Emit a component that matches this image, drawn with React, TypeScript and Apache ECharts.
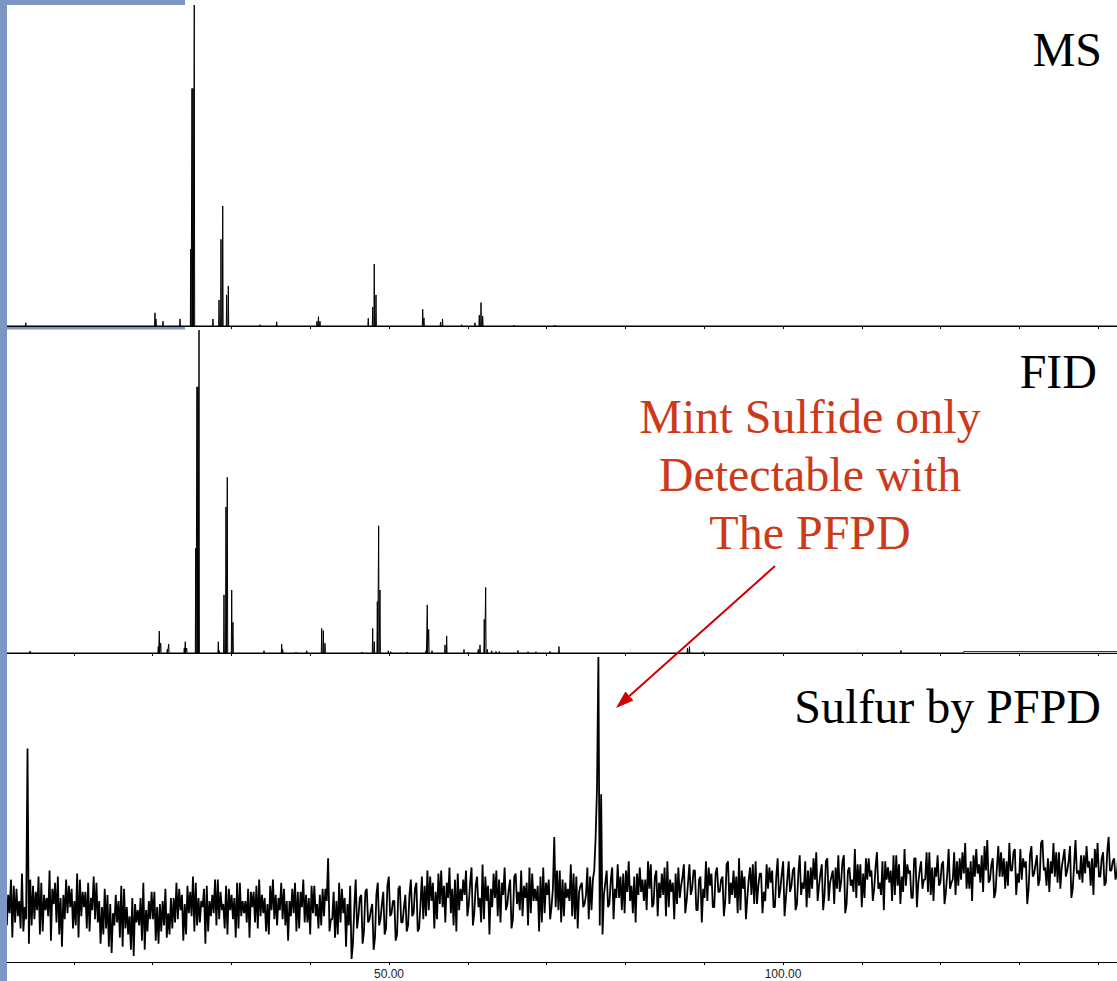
import React, { useEffect, useRef } from "react";
import * as echarts from "echarts";

// ---- time axis (minutes) ----
const axisMin = 0;
const axisMax = 142.39;
const tickInterval = 10;
const labelledTicks = [50, 100];

// ---- MS chromatogram peaks (time, relative height) ----
const msPeakTimes = [3.9, 20.3, 20.43, 21.32, 23.48, 24.84, 25.0, 25.13, 25.29, 27.66, 28.43, 28.68, 28.9, 29.4, 29.61, 33.63, 35.75, 40.86, 41.05, 41.24, 47.37, 47.93, 48.13, 48.35, 54.28, 54.44, 56.54, 56.79, 59.23, 60.91, 61.46, 61.68, 61.89, 65.87, 71.07];
const msPeakHeights = [1.0, 4.1, 2.2, 1.5, 2.2, 24, 74, 74, 100, 2.2, 8.1, 27, 37.4, 9.7, 12.5, 0.4, 1.3, 1.5, 2.9, 1.5, 2.4, 5.9, 19.3, 9.7, 5.2, 2.5, 1.2, 2.2, 0.4, 1.0, 3.4, 7.3, 3.1, 0.3, 0.3];

// ---- FID chromatogram peaks ----
const fidPeakTimes = [4.44, 20.72, 20.85, 21.03, 21.87, 22.04, 24.02, 24.15, 24.33, 25.47, 25.63, 25.76, 25.89, 28.34, 28.46, 29.06, 29.31, 29.48, 30.04, 30.2, 34.14, 36.38, 36.51, 38.2, 39.56, 41.46, 41.67, 41.88, 46.61, 47.93, 48.13, 48.52, 48.69, 48.86, 49.91, 50.22, 52.32, 54.7, 54.86, 55.04, 55.46, 57.11, 57.32, 59.52, 60.06, 61.33, 61.55, 62.09, 62.27, 62.48, 63.03, 63.58, 64.0, 66.37, 67.64, 68.65, 70.43, 71.57, 87.88, 88.13, 89.85, 114.97];
const fidPeakHeights = [0.6, 2.0, 6.8, 3.1, 1.2, 2.8, 1.5, 3.5, 1.5, 32.4, 82.4, 82.4, 100, 3.5, 0.7, 18, 45.2, 54.4, 19.5, 9.5, 0.7, 2.8, 1.1, 0.3, 0.7, 7.6, 6.9, 3.0, 0.3, 7.6, 3.5, 15.9, 39.4, 19.5, 0.7, 0.4, 0.3, 0.7, 14.9, 7.3, 0.7, 2.5, 5.3, 1.1, 0.3, 1.1, 2.5, 10.4, 20.3, 1.1, 0.7, 0.5, 0.5, 0.8, 0.4, 0.4, 0.5, 2.0, 1.5, 2.0, 0.4, 0.8];
const fidShelfTimes = [122.84, 142.39];
const fidShelfLevel = 0.4;

// ---- Sulfur (PFPD) trace: two readings per time bin (bin i starts at pfpdStart + i*pfpdStep);
// the trace visits the lower reading of each bin, then the higher one ----
const pfpdStart = 1.5;
const pfpdStep = 0.35;
const pfpdValuesA = [
  12, 27, 8, 24, 15, 29, 10, 70, 6, 25, 14, 28, 9, 22, 17, 30, 7, 26, 13, 21,
  5, 27, 16, 24, 11, 29, 8, 23, 18, 26, 10, 28, 14, 20,
  6, 24, 11, 19, 3, 22, 13, 25, 5, 18, 9, 21, 2, 17, 12, 26, 4, 20, 14, 23, 7, 19, 10, 24, 8, 21,
  11, 26, 14, 22, 7, 25, 16, 28, 10, 21, 13, 24, 6, 20, 15, 27, 12, 23, 17, 25,
  9, 22, 14, 26, 11, 20, 16, 24, 8, 23, 13, 27, 15, 21, 10, 25, 17, 22, 12, 26,
  14, 20, 7, 24, 16, 23, 11, 27, 13, 21, 9, 25, 15, 22, 12, 24, 34, 10,
  23, 8, 26, 13, 21, 5, 25, 1, 27, 11, 22, 6, 24, 14, 19, 4, 26, 12, 23, 9,
  28, 15, 20, 7, 25, 13, 22, 10, 27, 16, 24, 11,
  28, 14, 30, 17, 26, 11, 29, 19, 25, 13, 31, 16, 27, 10, 24, 20, 30, 15, 26, 12,
  28, 18, 32, 14, 25, 9, 29, 21, 27, 13, 31, 17, 24, 11, 28, 19, 30, 15, 26, 12,
  29, 20, 25, 10, 31, 16, 27, 14, 41, 18, 30, 13, 26, 21, 32, 15, 28, 11, 25, 19,
  31, 14, 27, 41, 100, 55,
  9, 30, 18, 27, 14, 32, 21, 29, 16, 33, 20, 28, 13, 31, 23, 27, 17, 32, 19, 30,
  15, 29, 22, 33, 18, 26, 14, 31, 21, 28, 16, 32, 24, 30, 17, 27, 13, 33, 20, 29,
  18, 31, 23, 28, 15, 32, 19, 30, 21, 34, 17, 28, 14, 31, 22, 33, 19, 29, 16, 32,
  24, 30, 18, 34, 21, 29, 15, 33, 23, 31, 19, 35, 22,
  33, 18, 31, 24, 36, 20, 32, 17, 34, 26, 30, 19, 35, 23, 33, 16, 31, 25, 37, 21,
  32, 18, 34, 27, 30, 20, 36, 24, 33, 17, 31, 26, 35, 22, 32, 19, 37, 25, 30, 21,
  34, 18, 33, 27, 36, 23, 31, 20, 35, 26, 32, 19, 37, 24,
  36, 22, 34, 27, 39, 24, 33, 20, 37, 29, 35, 23, 40, 26, 32, 21, 38, 28, 34, 24,
  39, 30, 36, 22, 37, 27, 33, 19, 38, 29, 35, 25, 40, 31, 34, 23, 39, 28, 36, 24,
  37, 30, 33, 21, 40, 29, 35, 26, 38, 31, 34, 22, 39, 28, 36, 25, 41, 30, 34, 27,
  38,
];
const pfpdValuesB = [
  22, 16, 25, 13, 20, 11, 18, 14, 27, 12, 23, 17, 26, 10, 21, 15, 24, 19, 28, 9,
  22, 14, 25, 18, 20, 12, 27, 15, 23, 11, 21, 17, 26, 13,
  18, 9, 22, 5, 16, 12, 20, 8, 24, 11, 15, 4, 19, 13, 21, 7, 17, 10, 23, 14, 18, 6, 20, 12, 16, 9,
  21, 13, 24, 17, 19, 9, 23, 15, 26, 12, 20, 18, 25, 10, 22, 16, 27, 14, 19, 11,
  24, 17, 21, 8, 26, 15, 20, 13, 23, 18, 25, 11, 22, 16, 19, 9, 27, 14, 21, 17,
  24, 12, 20, 15, 26, 10, 23, 18, 22, 13, 25, 16, 19, 11, 24, 15, 20, 14,
  14, 20, 9, 24, 16, 19, 12, 6, 18, 15, 21, 10, 23, 13, 17, 8, 22, 14, 19, 11,
  25, 16, 20, 9, 24, 13, 18, 12, 22, 15, 26, 10,
  19, 25, 15, 28, 20, 23, 14, 30, 18, 26, 21, 24, 12, 29, 17, 27, 22, 19, 31, 16,
  25, 21, 13, 28, 20, 24, 18, 30, 15, 26, 22, 19, 27, 14, 29, 23, 17, 25, 21, 31,
  16, 24, 20, 28, 13, 26, 22, 18, 24, 30, 17, 27, 15, 24, 20, 29, 14, 23, 26, 18,
  22, 28, 17, 30, 57, 12,
  22, 26, 19, 31, 24, 21, 28, 17, 30, 23, 25, 16, 29, 22, 27, 20, 33, 24, 18, 28,
  26, 21, 31, 15, 27, 23, 29, 19, 25, 32, 20, 26, 22, 30, 17, 28, 24, 21, 31, 25,
  18, 29, 23, 27, 20, 33, 26, 22, 28, 16, 30, 24, 21, 27, 32, 19, 25, 29, 23, 20,
  31, 26, 18, 28, 24, 33, 21, 27, 25, 30, 17, 29, 26,
  24, 30, 21, 34, 27, 25, 29, 22, 33, 20, 28, 31, 24, 26, 35, 19, 30, 27, 23, 32,
  25, 29, 21, 34, 28, 24, 31, 26, 22, 33, 27, 30, 20, 35, 25, 28, 23, 32, 29, 21,
  34, 26, 30, 24, 27, 36, 22, 31, 28, 25, 33, 23, 29, 26,
  27, 33, 25, 36, 29, 31, 24, 35, 28, 32, 26, 38, 30, 27, 34, 23, 31, 36, 28, 33,
  25, 30, 37, 29, 26, 34, 31, 24, 35, 28, 32, 27, 39, 30, 25, 33, 29, 36, 26, 31,
  34, 28, 38, 24, 32, 30, 27, 35, 29, 33, 25, 37, 31, 28, 34, 26, 36, 30, 33, 29,
  35,
];

// ---- annotation texts ----
const panelTitles = ["MS", "FID", "Sulfur by PFPD"];
const noteLines = ["Mint Sulfide only", "Detectable with", "The PFPD"];

function spikeLine(times: number[], heights: number[]) {
  const half = 0.05;
  const pts: number[][] = [[axisMin + 1.5, 0]];
  times.forEach((t, i) => {
    pts.push([t - half, 0], [t, heights[i]], [t + half, 0]);
  });
  return pts;
}

export default function App() {
  const ref = useRef<HTMLDivElement>(null);
  useEffect(() => {
    document.body.style.margin = "0";
    const chart = echarts.init(ref.current!, undefined, { renderer: "svg" });

    const msData = spikeLine(msPeakTimes, msPeakHeights);
    msData.push([axisMax, 0]);
    const fidData = spikeLine(fidPeakTimes, fidPeakHeights);
    fidData.push([fidShelfTimes[0], 0], [fidShelfTimes[0] + 0.06, fidShelfLevel], [fidShelfTimes[1], fidShelfLevel]);
    const pfpdData: number[][] = [];
    pfpdValuesA.forEach((a, i) => {
      const b = pfpdValuesB[i];
      const t = pfpdStart + i * pfpdStep;
      pfpdData.push([t, Math.min(a, b)], [t + pfpdStep / 2, Math.max(a, b)]);
    });

    const grids = [
      { left: -5, right: 0, top: 5, height: 321 },
      { left: -5, right: 0, top: 330, height: 323 },
      { left: -5, right: 0, top: 657, height: 305 },
    ].map((g) => ({ ...g, containLabel: false, outerBoundsMode: "none" }));

    const xAxis = [0, 1, 2].map((gi) => ({
      type: "value",
      gridIndex: gi,
      min: axisMin,
      max: axisMax,
      interval: tickInterval,
      axisLine: { show: true, onZero: false, lineStyle: { color: "#000", width: 1 } },
      axisTick: { show: true, length: 3, lineStyle: { color: "#000", width: 1 } },
      axisLabel: {
        show: gi === 2,
        formatter: (v: number) => (labelledTicks.includes(v) ? v.toFixed(2) : ""),
        fontSize: 12,
        color: "#222",
        fontFamily: "Liberation Sans, Arial, sans-serif",
        margin: 6,
        showMinLabel: false,
        showMaxLabel: false,
      },
      splitLine: { show: false },
    }));

    const yAxis = [0, 1, 2].map((gi) => ({
      type: "value",
      gridIndex: gi,
      min: 0,
      max: 100,
      show: false,
      splitLine: { show: false },
    }));

    const lineSeries = (data: number[][], gi: number, width: number) => ({
      type: "line",
      xAxisIndex: gi,
      yAxisIndex: gi,
      data,
      showSymbol: false,
      symbol: "none",
      silent: true,
      lineStyle: { color: "#000", width },
      z: 3,
    });

    const serif = "'Liberation Serif', 'Times New Roman', serif";
    const blue = "#7b97c2";
    const red = "#cc3a1a";

    const tip = [616, 708];
    const start = [775, 566];

    chart.setOption({
      animation: false,
      backgroundColor: "#ffffff",
      grid: grids,
      xAxis,
      yAxis,
      series: [
        lineSeries(msData, 0, 1),
        lineSeries(fidData, 1, 1),
        lineSeries(pfpdData, 2, 1.8),
      ],
      graphic: [
        { type: "rect", z: 100, shape: { x: 0, y: 0, width: 7, height: 981 }, style: { fill: blue } },
        { type: "rect", z: 100, shape: { x: 0, y: 0, width: 185, height: 5 }, style: { fill: blue } },
        { type: "rect", z: 100, shape: { x: 7, y: 327, width: 178, height: 2.5 }, style: { fill: blue } },
        { type: "text", z: 100, x: 1102, y: 49, style: { text: panelTitles[0], font: `48px ${serif}`, fill: "#000", align: "right", verticalAlign: "middle" } },
        { type: "text", z: 100, x: 1097, y: 371, style: { text: panelTitles[1], font: `48px ${serif}`, fill: "#000", align: "right", verticalAlign: "middle" } },
        { type: "text", z: 100, x: 1101, y: 706, style: { text: panelTitles[2], font: `48px ${serif}`, fill: "#000", align: "right", verticalAlign: "middle" } },
        ...noteLines.map((t, i) => ({
          type: "text",
          z: 100,
          x: 810,
          y: 416 + i * 58,
          style: { text: t, font: `48px ${serif}`, fill: red, align: "center", verticalAlign: "middle" },
        })),
        { type: "line", z: 100, shape: { x1: start[0], y1: start[1], x2: 629.4, y2: 696 }, style: { stroke: "#d10000", lineWidth: 2 } },
        { type: "polygon", z: 100, shape: { points: [tip, [633.4, 700.5], [625.4, 691.5]] }, style: { fill: "#d10000" } },
      ],
    });
    return () => chart.dispose();
  }, []);
  return <div ref={ref} style={{ width: 1117, height: 981 }} />;
}
